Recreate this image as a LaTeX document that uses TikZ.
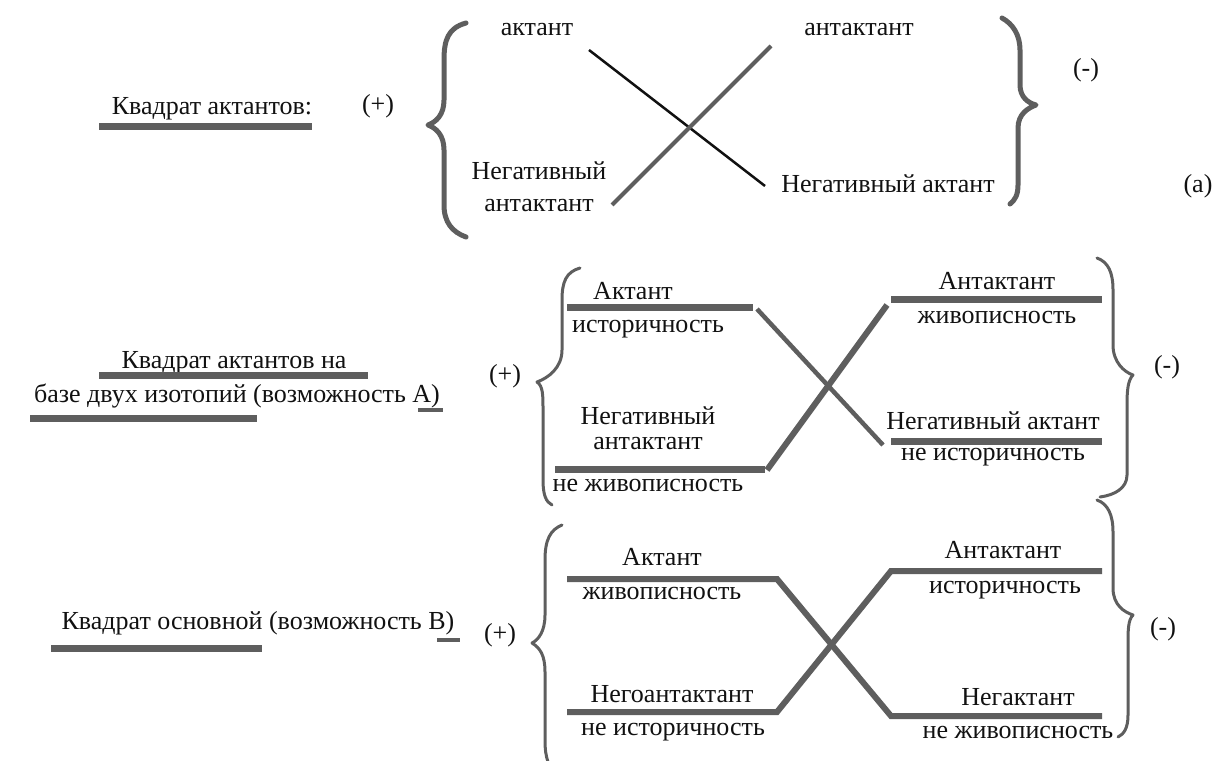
\documentclass[tikz,border=0pt]{standalone}
\usepackage{fontspec}
\setmainfont{Liberation Serif}
\newfontfamily\timesru{Liberation Serif}
\definecolor{barc}{HTML}{5E5E5E}
\definecolor{inkc}{HTML}{111111}
\begin{document}
\begin{tikzpicture}[x=1pt,y=-1pt,
  txt/.style={inner sep=0pt, font=\timesru\fontsize{26}{30}\selectfont, text=inkc,
              text height=18pt, text depth=5pt},
  bar/.style={draw=barc, line width=7pt},
  ulbar/.style={draw=barc, line width=7pt},
  thinlink/.style={draw=inkc, line width=2.5pt},
  greylink/.style={draw=barc, line width=4pt},
  heavylink/.style={draw=barc, line width=6pt, line join=miter},
  brc/.style={draw=barc, line width=3pt, line cap=round, line join=round},
  heavybrc/.style={draw=barc, line width=5pt, line cap=round, line join=round}]
\useasboundingbox (0,0) rectangle (1230,760);

% ---------- (a) square of actants ----------
\node[txt] (ta) at (212,108) {Квадрат актантов:};
\draw[ulbar] (99,126) -- (312,126);
\node[txt] (pa) at (378,106) {(+)};
\draw[heavybrc] (466,23) .. controls (448,28) and (444,40) .. (444,60)
  -- (444,100) .. controls (444,115) and (436,122) .. (428,125)
  .. controls (436,128) and (444,135) .. (444,150)
  -- (444,205) .. controls (444,222) and (452,232) .. (466,237);
\node[txt] (a1) at (537,29) {актант};
\node[txt] (a2) at (859,29) {антактант};
\node[txt] (a3) at (539,173) {Негативный};
\node[txt] (a3b) at (539,205) {антактант};
\node[txt] (a4) at (888,186) {Негативный актант};
\coordinate (x1) at (589,50);
\coordinate (x2) at (765,186);
\coordinate (y1) at (612,205);
\coordinate (y2) at (771,46);
\draw[thinlink] (x1) -- (x2);
\draw[greylink] (y1) -- (y2);
\draw[heavybrc] (1002,18) .. controls (1013,24) and (1020,35) .. (1020,50)
  -- (1020,85) .. controls (1020,97) and (1028,103) .. (1036,105)
  .. controls (1028,108) and (1018,114) .. (1018,128)
  -- (1018,185) .. controls (1018,195) and (1015,200) .. (1010,204);
\node[txt] (ma) at (1086,70) {(-)};
\node[txt] (la) at (1198,186) {(a)};

% ---------- option A ----------
\node[txt] (tA1) at (234,362) {Квадрат актантов на};
\draw[ulbar] (99,375) -- (368,375);
\node[txt] (tA2) at (237,396) {базе двух изотопий (возможность А)};
\draw[ulbar] (30,418) -- (257,418);
\draw[draw=barc, line width=4pt] (418,410) -- (443,410);
\node[txt] (pA) at (505,376) {(+)};
\draw[brc] (580,268) .. controls (566,272) and (562,282) .. (562,300)
  -- (562,350) .. controls (562,368) and (548,378) .. (537,382)
  .. controls (543,386) and (543,395) .. (543,410)
  -- (543,480) .. controls (543,495) and (546,502) .. (552,505);
\node[txt] (A1) at (633,293) {Актант};
\node[txt] (A1b) at (648,326) {историчность};
\coordinate (A1l) at (567,307); \coordinate (A1r) at (753,307);
\draw[bar] (A1l) -- (A1r);
\node[txt] (A2) at (648,418) {Негативный};
\node[txt] (A2b) at (648,443) {антактант};
\node[txt] (A2c) at (648,485) {не живописность};
\coordinate (A2l) at (555,469); \coordinate (A2r) at (765,469);
\draw[bar] (A2l) -- (A2r);
\node[txt] (A3) at (997,283) {Антактант};
\node[txt] (A3b) at (997,317) {живописность};
\coordinate (A3l) at (891,299); \coordinate (A3r) at (1102,299);
\draw[bar] (A3l) -- (A3r);
\node[txt] (A4) at (993,423) {Негативный актант};
\node[txt] (A4b) at (993,454) {не историчность};
\coordinate (A4l) at (891,441); \coordinate (A4r) at (1102,441);
\draw[bar] (A4l) -- (A4r);
\coordinate (Ax1) at (757,309); \coordinate (Ax2) at (883,445);
\coordinate (Ay1) at (767,470); \coordinate (Ay2) at (887,305);
\draw[greylink, line width=4.5pt] (Ax1) -- (Ax2);
\draw[heavylink] (Ay1) -- (Ay2);
\draw[brc] (1097,258) .. controls (1108,262) and (1113,272) .. (1113,290)
  -- (1113,345) .. controls (1113,362) and (1124,372) .. (1133,375)
  .. controls (1128,380) and (1127,390) .. (1127,405)
  -- (1127,475) .. controls (1127,488) and (1115,495) .. (1100,497);
\node[txt] (mA) at (1167,367) {(-)};

% ---------- option B ----------
\node[txt] (tB) at (258,623) {Квадрат основной (возможность В)};
\draw[ulbar] (51,648) -- (262,648);
\draw[draw=barc, line width=4pt] (437,640) -- (460,640);
\node[txt] (pB) at (500,635) {(+)};
\draw[brc] (562,525) .. controls (550,530) and (545,540) .. (545,560)
  -- (545,615) .. controls (545,632) and (538,640) .. (532,643)
  .. controls (540,648) and (545,655) .. (545,672)
  -- (545,740) .. controls (545,750) and (546,756) .. (548,762);
\node[txt] (B1) at (662,559) {Актант};
\node[txt] (B1b) at (662,593) {живописность};
\coordinate (B1l) at (567,579); \coordinate (B1r) at (777,579);
\node[txt] (B2) at (672,696) {Негоантактант};
\node[txt] (B2b) at (673,729) {не историчность};
\coordinate (B2l) at (567,712); \coordinate (B2r) at (777,712);
\node[txt] (B3) at (1003,552) {Антактант};
\node[txt] (B3b) at (1005,587) {историчность};
\coordinate (B3l) at (891,571); \coordinate (B3r) at (1102,571);
\node[txt] (B4) at (1018,699) {Негактант};
\node[txt] (B4b) at (1018,732) {не живописность};
\coordinate (B4l) at (891,716); \coordinate (B4r) at (1102,716);
\draw[heavylink] (B1l) -- (B1r) -- (B4l) -- (B4r);
\draw[heavylink] (B2l) -- (B2r) -- (B3l) -- (B3r);
\draw[brc] (1097,500) .. controls (1108,504) and (1113,515) .. (1113,532)
  -- (1113,588) .. controls (1113,605) and (1124,612) .. (1133,615)
  .. controls (1128,620) and (1128,630) .. (1128,645)
  -- (1128,715) .. controls (1128,728) and (1124,734) .. (1118,737);
\node[txt] (mB) at (1163,629) {(-)};
\end{tikzpicture}
\end{document}
